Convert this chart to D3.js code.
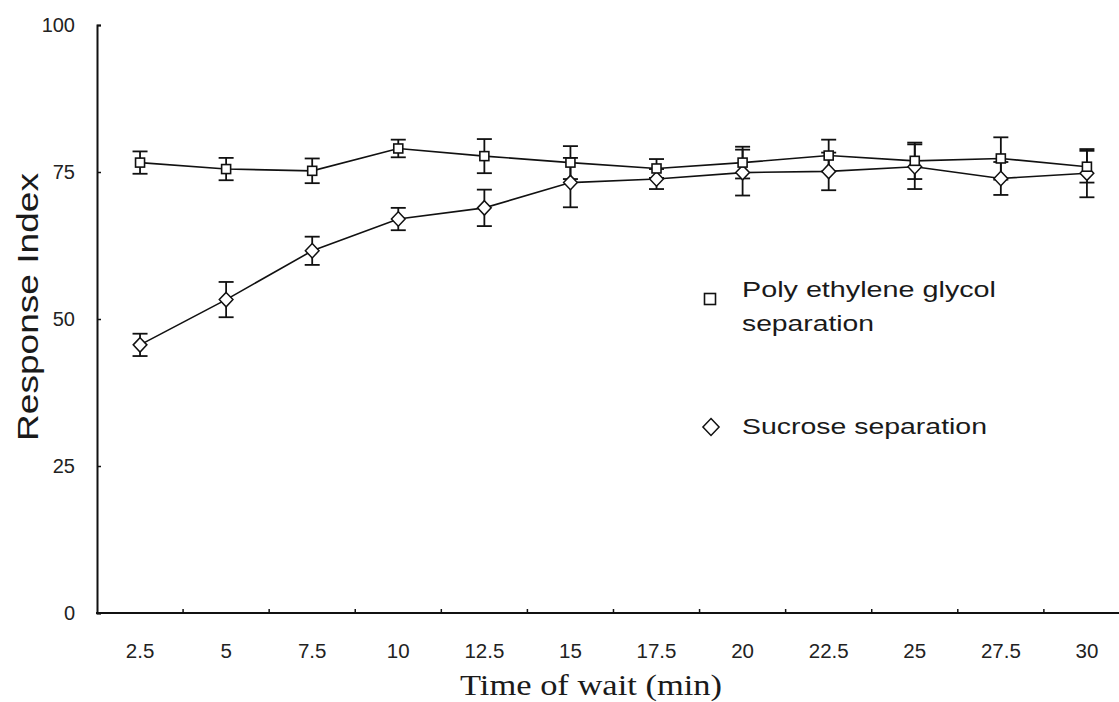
<!DOCTYPE html>
<html>
<head>
<meta charset="utf-8">
<script src="https://cdn.jsdelivr.net/npm/d3@7"></script>
<style>
  html, body { margin: 0; padding: 0; background: #fff; }
  svg { display: block; }
</style>
</head>
<body>
<svg id="chart" width="1119" height="702"></svg>
<script>
// ---- data ----
const times = ["2.5", "5", "7.5", "10", "12.5", "15", "17.5", "20", "22.5", "25", "27.5", "30"];
const pegValues = [76.6, 75.5, 75.2, 79.0, 77.7, 76.6, 75.6, 76.6, 77.8, 76.9, 77.3, 75.9];
const pegErrors = [1.9, 1.9, 2.1, 1.5, 2.9, 2.8, 1.6, 2.7, 2.7, 3.1, 3.6, 2.7];
const sucValues = [45.6, 53.3, 61.6, 67.0, 68.9, 73.2, 73.8, 74.9, 75.1, 75.9, 73.9, 74.8];
const sucErrors = [1.9, 3.0, 2.4, 1.9, 3.1, 4.2, 1.7, 3.9, 3.2, 3.8, 2.8, 4.1];
const yTicks = [0, 25, 50, 75, 100];
const seriesNames = ["Poly ethylene glycol", "separation"];
const sucName = "Sucrose separation";

// ---- layout ----
const svg = d3.select("#chart");
const x = d3.scaleBand().domain(times).range([97, 97 + 12 * 86.08]).padding(0);
const y = d3.scaleLinear().domain([0, 100]).range([613, 25]);
const cx = d => x(d) + x.bandwidth() / 2;
const ink = "#111";

// axes
const yAxis = d3.axisLeft(y).tickValues(yTicks).tickSize(-4).tickPadding(22);
const gy = svg.append("g").attr("transform", "translate(97,0)").call(yAxis);
gy.select(".domain").attr("stroke", ink).attr("stroke-width", 2);
gy.selectAll(".tick line").attr("stroke", ink).attr("stroke-width", 1.5);
gy.selectAll(".tick text")
  .attr("font-family", "'Liberation Sans', Arial, sans-serif")
  .attr("font-size", 20).attr("fill", "#222");

const xAxis = d3.axisBottom(x).tickSize(0).tickPadding(30);
const gx = svg.append("g").attr("transform", "translate(0,613)").call(xAxis);
gx.select(".domain").remove();
gx.selectAll(".tick text")
  .attr("font-family", "'Liberation Sans', Arial, sans-serif")
  .attr("font-size", 20.5).attr("fill", "#222");
svg.append("line")
  .attr("x1", 96).attr("x2", 1119).attr("y1", y(0)).attr("y2", y(0))
  .attr("stroke", ink).attr("stroke-width", 2);
// x ticks at band boundaries, pointing inward
svg.append("g").selectAll("line").data(times.slice(1))
  .join("line")
  .attr("x1", d => x(d)).attr("x2", d => x(d))
  .attr("y1", y(0)).attr("y2", y(0) - 4)
  .attr("stroke", ink).attr("stroke-width", 1.5);

// axis titles
svg.append("text")
  .attr("transform", "translate(38," + ((441 + 173) / 2) + ") rotate(-90)")
  .attr("text-anchor", "middle")
  .attr("font-family", "'Liberation Sans', Arial, sans-serif")
  .attr("font-size", 30).attr("fill", "#1a1a1a")
  .attr("textLength", 268).attr("lengthAdjust", "spacingAndGlyphs")
  .text("Response Index");

svg.append("text")
  .attr("x", 591).attr("y", 695)
  .attr("text-anchor", "middle")
  .attr("font-family", "'Liberation Serif', 'Times New Roman', serif")
  .attr("font-size", 30).attr("fill", "#1a1a1a")
  .attr("textLength", 262).attr("lengthAdjust", "spacingAndGlyphs")
  .text("Time of wait (min)");

// ---- series ----
function drawSeries(values, errors) {
  const pts = times.map((t, i) => ({ t, v: values[i], e: errors[i] }));
  const line = d3.line().x(d => cx(d.t)).y(d => y(d.v));
  svg.append("path").datum(pts).attr("d", line)
    .attr("fill", "none").attr("stroke", ink).attr("stroke-width", 1.6);
  const eb = svg.append("g").attr("stroke", ink).attr("stroke-width", 1.8);
  eb.selectAll(".v").data(pts).join("line")
    .attr("x1", d => cx(d.t)).attr("x2", d => cx(d.t))
    .attr("y1", d => y(d.v + d.e)).attr("y2", d => y(d.v - d.e));
  eb.selectAll(".top").data(pts).join("line").attr("class", "top")
    .attr("x1", d => cx(d.t) - 7.5).attr("x2", d => cx(d.t) + 7.5)
    .attr("y1", d => y(d.v + d.e)).attr("y2", d => y(d.v + d.e));
  eb.selectAll(".bot").data(pts).join("line").attr("class", "bot")
    .attr("x1", d => cx(d.t) - 7.5).attr("x2", d => cx(d.t) + 7.5)
    .attr("y1", d => y(d.v - d.e)).attr("y2", d => y(d.v - d.e));
  return pts;
}

const sucPts = drawSeries(sucValues, sucErrors);
const pegPts = drawSeries(pegValues, pegErrors);

const diamond = (s) => `M0,${-s}L${s*0.95},0L0,${s}L${-s*0.95},0Z`;

svg.append("g").selectAll("path").data(sucPts).join("path")
  .attr("transform", d => `translate(${cx(d.t)},${y(d.v)})`)
  .attr("d", diamond(7.2))
  .attr("fill", "#fff").attr("stroke", ink).attr("stroke-width", 1.5);

svg.append("g").selectAll("rect").data(pegPts).join("rect")
  .attr("x", d => cx(d.t) - 4.5).attr("y", d => y(d.v) - 4.5)
  .attr("width", 9).attr("height", 9)
  .attr("fill", "#fff").attr("stroke", ink).attr("stroke-width", 1.6);

// ---- legend ----
const lg = svg.append("g");
lg.append("rect").attr("x", 704.5).attr("y", 293.5).attr("width", 11).attr("height", 11)
  .attr("fill", "#fff").attr("stroke", ink).attr("stroke-width", 1.6);
lg.append("path").attr("transform", "translate(711,427)").attr("d", diamond(8.5))
  .attr("fill", "#fff").attr("stroke", ink).attr("stroke-width", 1.5);
const lf = "'Liberation Sans', Arial, sans-serif";
lg.append("text").attr("x", 742).attr("y", 297)
  .attr("font-family", lf).attr("font-size", 22).attr("fill", "#1a1a1a")
  .attr("textLength", 254).attr("lengthAdjust", "spacingAndGlyphs")
  .text(seriesNames[0]);
lg.append("text").attr("x", 742).attr("y", 331)
  .attr("font-family", lf).attr("font-size", 22).attr("fill", "#1a1a1a")
  .attr("textLength", 132).attr("lengthAdjust", "spacingAndGlyphs")
  .text(seriesNames[1]);
lg.append("text").attr("x", 742).attr("y", 434)
  .attr("font-family", lf).attr("font-size", 22).attr("fill", "#1a1a1a")
  .attr("textLength", 245).attr("lengthAdjust", "spacingAndGlyphs")
  .text(sucName);
</script>
</body>
</html>
